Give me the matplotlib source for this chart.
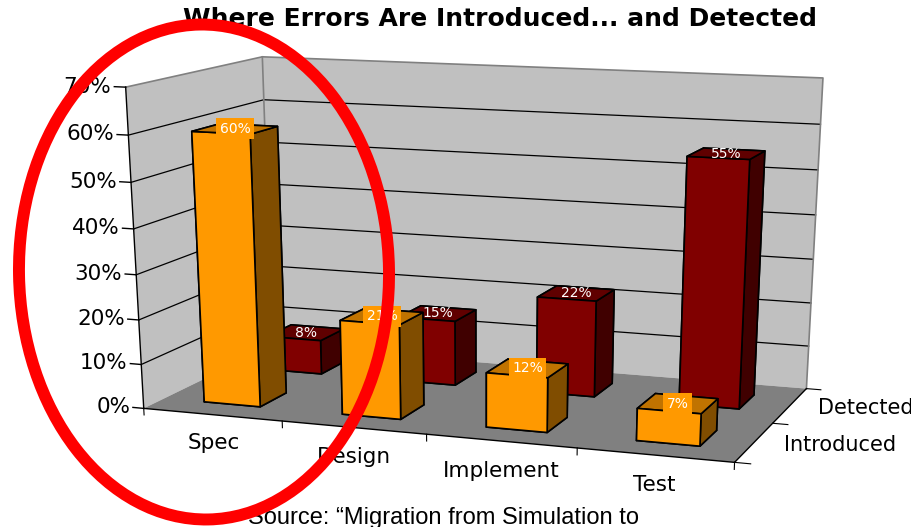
import numpy as np
import matplotlib
matplotlib.use('Agg')
import matplotlib.pyplot as plt
from matplotlib.patches import Ellipse
from mpl_toolkits.mplot3d import proj3d
from mpl_toolkits.mplot3d.art3d import Poly3DCollection

W, H = 911, 527

# Data
categories = ['Spec', 'Design', 'Implement', 'Test']
rows = ['Introduced', 'Detected']
introduced = [60, 21, 12, 7]
detected = [8, 15, 22, 55]
z_ticks = [0, 10, 20, 30, 40, 50, 60, 70]

ORANGE = ['#FF9900', '#C07300', '#FF9900', '#FF9900', '#804D00', '#804D00']
MAROON = ['#800000', '#600000', '#800000', '#800000', '#400000', '#400000']
BAR_W = 0.41

fig = plt.figure(figsize=(W / 100, H / 100), dpi=100, facecolor='white')
# 3D axes keep a square box, so make it as wide as the figure and let it overhang
ax = fig.add_axes([0, (H - W) / 2 / H, 1, W / H], projection='3d',
                  computed_zorder=False, proj_type='ortho')
ax.set_axis_off()
ax.patch.set_alpha(0)

# overlay for text and the red circle, pixel coordinates from the top left
over = fig.add_axes([0, 0, 1, 1])
over.set_xlim(0, W)
over.set_ylim(H, 0)
over.set_axis_off()
over.patch.set_alpha(0)

# ============================================================================
# CAMERA - fit the projection to the corners of the chart box
# ============================================================================
box_corners = [
    ((0, 0, 0), (143, 407)), ((0, 0, 70), (126, 88)),
    ((0, 2, 70), (262, 56)), ((0, 2, 0), (273, 347)),
    ((4, 2, 70), (823, 78)), ((4, 2, 0), (806, 388)),
    ((4, 0, 0), (735, 463)),
]
eqs = []
for (X, Y, Z), (px, py) in box_corners:
    u, v = ax.transData.inverted().transform((px, H - py))
    eqs.append([X, Y, Z, 1, 0, 0, 0, 0, -u * X, -u * Y, -u * Z, -u])
    eqs.append([0, 0, 0, 0, X, Y, Z, 1, -v * X, -v * Y, -v * Z, -v])
P = np.linalg.svd(np.array(eqs, dtype=float))[2][-1].reshape(3, 4)
P = P / (P[2] @ np.array([2, 1, 35, 1]))
M = np.array([P[0], P[1], [-0.1, 1, -0.01, 0], P[2]])
ax.get_proj = lambda: M


def label(x, y, z, text, **kwargs):
    # text goes on the overlay at the projected spot of a 3D point
    u, v, _ = proj3d.proj_transform(x, y, z, M)
    over.text(u, v, text, transform=ax.transData, **kwargs)


# ============================================================================
# WALLS AND GRID
# ============================================================================
ax.add_collection3d(Poly3DCollection([[(0, 2, 0), (4, 2, 0), (4, 2, 70), (0, 2, 70)],
                                      [(0, 0, 0), (0, 2, 0), (0, 2, 70), (0, 0, 70)]],
                                     facecolor='#C0C0C0', edgecolor='none', zorder=1))
ax.add_collection3d(Poly3DCollection([[(0, 0, 0), (4, 0, 0), (4, 2, 0), (0, 2, 0)]],
                                     facecolor='#808080', edgecolor='none', zorder=1))

for z in z_ticks[1:-1]:
    ax.plot([0, 0, 4], [0, 2, 2], [z, z, z], color='black', lw=0.9, zorder=2)
ax.plot([0, 0, 4, 4], [0, 2, 2, 2], [70, 70, 70, 0], color='#808080', lw=1.2, zorder=2)
ax.plot([0, 0], [2, 2], [0, 70], color='#808080', lw=1.2, zorder=2)

# axis lines and ticks
ax.plot([0, 0], [0, 0], [0, 70], color='black', lw=1, zorder=2)
ax.plot([0, 4, 4], [0, 0, 2], [0, 0, 0], color='black', lw=1, zorder=2)
for z in z_ticks:
    ax.plot([-0.08, 0], [0, 0], [z, z], color='black', lw=1, zorder=2)
    label(-0.1, 0, z, f'{z}%', ha='right', va='center', fontsize=15.5, color='black')
for i in range(5):
    ax.plot([i, i], [0, 0], [0, -1.5], color='black', lw=0.8, zorder=2)
for j in range(3):
    ax.plot([4, 4.1], [j, j], [0, 0], color='black', lw=0.8, zorder=2)

for i, name in enumerate(categories):
    label(i + 0.5, 0, -6.5, name, ha='center', va='center', fontsize=15.5, color='black')
for j, name in enumerate(rows):
    label(4.19, j + 0.5, 0, name, ha='left', va='center', fontsize=15, color='black')

# ============================================================================
# BARS - back row first
# ============================================================================
for j, values, colors, z_order in [(1, detected, MAROON, 3), (0, introduced, ORANGE, 4)]:
    for i, val in enumerate(values):
        ax.bar3d(i + 0.5 - BAR_W / 2, j + 0.5 - BAR_W / 2, 0, BAR_W, BAR_W, val,
                 color=colors, edgecolor='black', linewidth=1.2, shade=False, zorder=z_order)
        box = dict(facecolor='#FF9900', edgecolor='none', pad=2.5) if j == 0 else None
        label(i + 0.5, j + 0.5, val, f'{val}%', ha='center', va='center', fontsize=10,
              color='white', bbox=box)

# ============================================================================
# TITLE, SOURCE AND THE RED CIRCLE
# ============================================================================
over.text(500, 19, 'Where Errors Are Introduced... and Detected', ha='center', va='center',
          fontsize=18, fontweight='bold', color='black')
over.text(444, 524, 'Source: \u201cMigration from Simulation to', ha='center', va='baseline',
          fontsize=17, family='Liberation Sans', color='black')
over.add_patch(Ellipse((204, 272), 370, 495, angle=-1, fill=False, edgecolor='#FF0000',
                       lw=8.6, zorder=10))

fig.savefig('out.png', dpi=100)
